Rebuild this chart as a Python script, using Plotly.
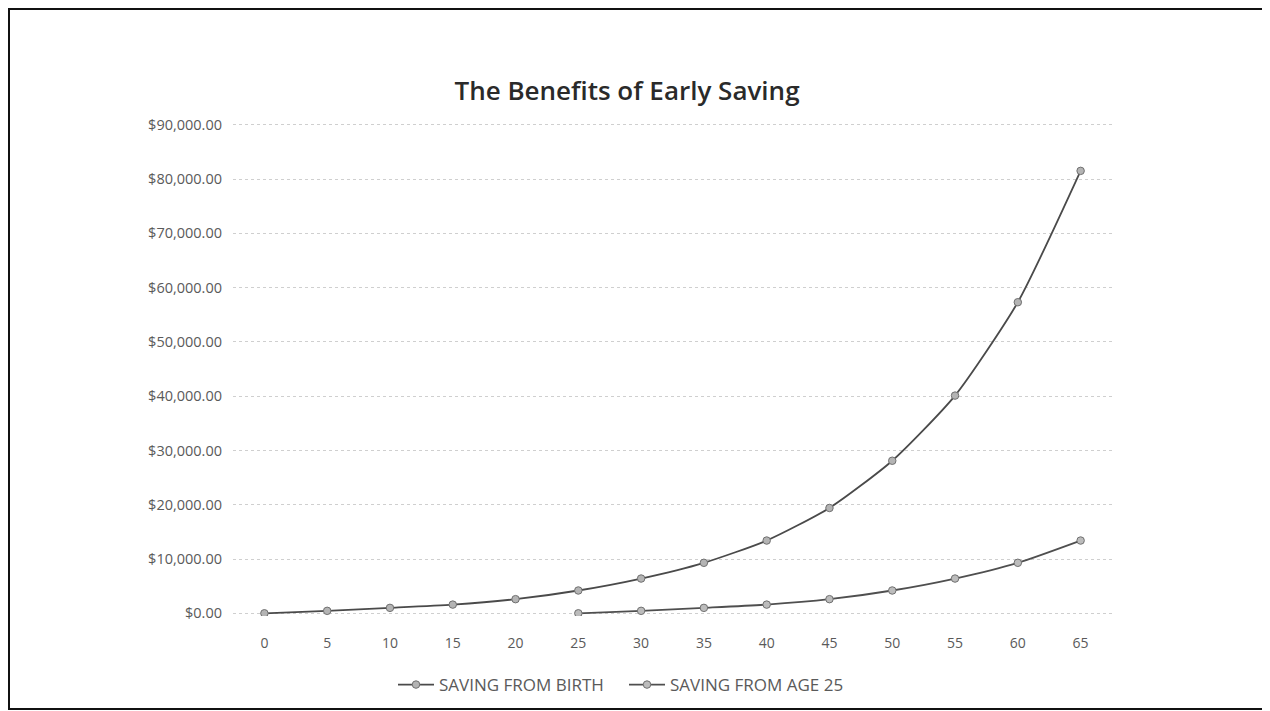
import plotly.graph_objects as go

ages = [0, 5, 10, 15, 20, 25, 30, 35, 40, 45, 50, 55, 60, 65]
age_labels = [str(a) for a in ages]
saving_from_birth = [0, 450, 1000, 1600, 2600, 4200, 6400, 9300, 13400, 19400, 28100, 40100, 57300, 81500]
saving_from_age25 = [None, None, None, None, None, 0, 450, 1000, 1600, 2600, 4200, 6400, 9300, 13400]
y_ticks = [0, 10000, 20000, 30000, 40000, 50000, 60000, 70000, 80000, 90000]

FONT = "Open Sans"
W, H = 1270, 711
OFF = 8  # page body margin
PAD = 500  # y-range padding so edge gridlines are drawn
Y0_PX, Y90_PX = 613, 125  # reference px of $0 and $90,000
per = (Y0_PX - Y90_PX) / 90000
top_px = Y90_PX - PAD * per
bot_px = Y0_PX + PAD * per
L, R = 233 - OFF, W - (1112 - OFF)
T, B = round(top_px - OFF), round(H - (bot_px - OFF))
pw, ph = W - L - R, H - T - B

def px_x(p):  # p: reference screen px
    return (p - OFF - L) / pw

def px_y(p):
    return (H - B - (p - OFF)) / ph

fig = go.Figure()
fig.add_trace(go.Scatter(
    x=age_labels, y=saving_from_birth, name="SAVING FROM BIRTH",
    mode="lines+markers",
    line=dict(color="#4a4a4a", width=1.8, shape="spline", smoothing=0.6),
    marker=dict(symbol="circle", size=7.5, color="#b4b4b4", line=dict(color="#707070", width=1)),
))
fig.add_trace(go.Scatter(
    x=age_labels, y=saving_from_age25, name="SAVING FROM AGE 25",
    mode="lines+markers",
    line=dict(color="#4f4f4f", width=1.8, shape="spline", smoothing=0.6),
    marker=dict(symbol="circle", size=7.5, color="#bcbcbc", line=dict(color="#707070", width=1)),
))

fig.update_layout(
    width=W, height=H,
    margin=dict(l=L, r=R, t=T, b=B),
    paper_bgcolor="white", plot_bgcolor="white",
    title=dict(text="The Benefits of Early Saving", x=px_x(627), xref="paper", xanchor="center",
               y=1 - (91 - OFF) / H, yanchor="middle", yref="container",
               font=dict(family=FONT, size=26, weight=600, color="#2a2a2a")),
    font=dict(family=FONT, size=14, color="#5a5a5a"),
    showlegend=True,
    legend=dict(orientation="h", x=px_x(393), xanchor="left", y=px_y(685), yanchor="middle",
                font=dict(family=FONT, size=17, color="#5a5a5a"), itemwidth=36,
                entrywidth=180, entrywidthmode="pixels",
                bgcolor="rgba(0,0,0,0)"),
    xaxis=dict(type="category", range=[-0.5, 13.5], showgrid=False, showline=False, zeroline=False,
               ticks="", tickfont=dict(size=14, color="#5a5a5a"), ticklabelstandoff=17),
    yaxis=dict(range=[-PAD, 90000 + PAD], tickvals=y_ticks, tickformat="$,.2f",
               showgrid=True, gridcolor="#cfcfcf", griddash="dot", gridwidth=1,
               zeroline=False, showline=False, ticks="",
               tickfont=dict(size=14.5, color="#5a5a5a"), ticklabelstandoff=10),
    shapes=[dict(type="rect", xref="paper", yref="paper",
                 x0=px_x(OFF + 1), x1=px_x(1268), y0=px_y(709), y1=px_y(OFF + 1),
                 line=dict(color="#111111", width=2), fillcolor="rgba(0,0,0,0)", layer="below")],
)

fig.write_html("out.html")
